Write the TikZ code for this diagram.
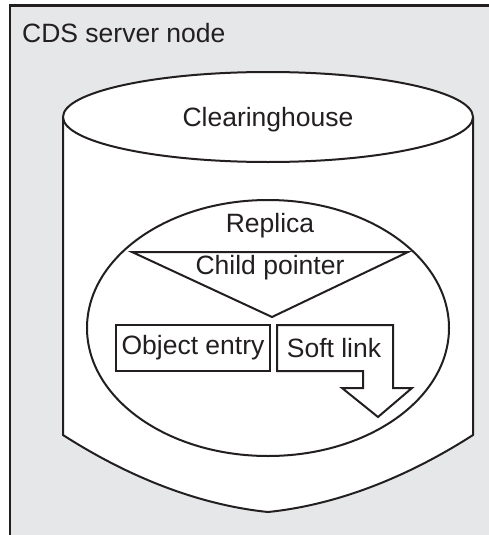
\documentclass[tikz,border=0pt]{standalone}
\usepackage{fontspec}
\setmainfont{Liberation Sans}
\usepackage{tikz}
\usetikzlibrary{calc}
\definecolor{boxgray}{HTML}{E6E7E8}
\definecolor{ink}{HTML}{231F20}
\tikzset{
  outline/.style={line width=2pt, draw=ink, line join=miter},
  txt/.style={text=ink, inner sep=0pt, font=\fontsize{26.5}{30}\selectfont}
}

\begin{document}
\begin{tikzpicture}[x=1pt, y=-1pt]
			%%%%% START %%%%%
			
			\useasboundingbox (0,0) rectangle (489,535);
			\clip (0,0) rectangle (489,535);
			
			% server node box, runs off the page
			\draw[fill=boxgray, draw=ink, line width=2.8pt] (10, 5.3) rectangle (530, 560);
			\node[txt, anchor=west] (server) at (22, 33) {CDS server node};
			
			% clearinghouse cylinder
			\draw[outline, fill=white] (63, 117) -- (63, 435)
				.. controls (130, 478) and (200, 505) .. (268, 512)
				.. controls (336, 505) and (406, 478) .. (473, 435) -- (473, 117);
			\draw[outline, fill=white] (268, 117) ellipse [x radius=205pt, y radius=45pt];
			\node[txt] (clearinghouse) at (268, 120) {Clearinghouse};
			
			% replica
			\draw[outline, fill=white] (268, 328) ellipse [x radius=181pt, y radius=128pt];
			\node[txt] (replica) at (270, 226) {Replica};
			
			\draw[outline] (132, 252) -- (408, 252) -- (272, 317) -- cycle;
			\node[txt] (childptr) at (270, 268) {Child pointer};
			
			\node[txt, draw=ink, line width=2pt, minimum width=154pt, minimum height=46pt] (objentry) at (193, 348) {Object entry};
			
			\draw[outline] (277, 325) -- (393, 325) -- (393, 388) -- (412, 388) -- (378, 417)
				-- (342, 388) -- (363, 388) -- (363, 371) -- (277, 371) -- cycle;
			\node[txt] (softlink) at (334, 348) {Soft link};
			
			%%%%% END %%%%%
\end{tikzpicture}
\end{document}
